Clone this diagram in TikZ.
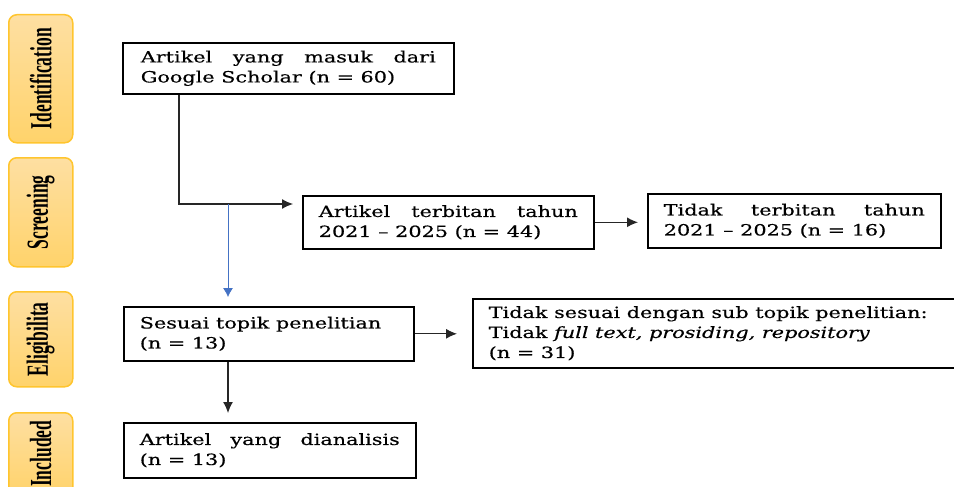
\documentclass[tikz,border=0pt]{standalone}
\usepackage{fontspec}
\setmainfont{DejaVu Serif}[FakeStretch=1.34, FakeBold=0.4]
\newfontfamily\stagefont{Liberation Serif}
\usetikzlibrary{arrows, arrows.meta, shapes, positioning}

\definecolor{stagetop}{HTML}{FEDFA2}
\definecolor{stagebottom}{HTML}{FFD36B}
\definecolor{stageline}{HTML}{FFC52E}
\definecolor{flowblue}{HTML}{4472C4}

\newcommand{\stagelabel}[1]{\rotatebox{90}{\scalebox{1}[1.75]{#1}}}

\tikzset{
	stage/.style={draw=stageline, line width=1.5pt, top color=stagetop, bottom color=stagebottom, rounded corners=8pt, minimum width=64pt, anchor=north west, inner sep=0pt, font=\stagefont\bfseries\fontsize{17.5}{17.5}\selectfont},
	flow/.style={draw, line width=1.6pt, anchor=north west, align=justify, inner xsep=16pt, inner ysep=0pt, font=\fontsize{15.5}{20}\selectfont},
	link/.style={-{Latex[length=11pt, width=10pt]}, line width=1.2pt, black!85},
}

\begin{document}
\begin{tikzpicture}[x=1pt, y=-1pt]
	\useasboundingbox (0,0) rectangle (954,487);

	\node[stage, minimum height=128pt] (ident) at (8,14) {\stagelabel{Identification}};
	\node[stage, minimum height=109pt] (screen) at (8,157) {\stagelabel{Screening}};
	\node[stage, minimum height=95pt] (elig) at (8,291) {\stagelabel{Eligibilita}};
	\node[stage, minimum height=82pt] (incl) at (8,412) {\stagelabel{Included}};

	\node[flow, inner xsep=18pt, text width=295pt, minimum height=51pt] (masuk) at (122,42) {Artikel yang masuk dari\linebreak Google Scholar (n = 60)};
	\node[flow, text width=259pt, minimum height=53pt] (terbit) at (302,195) {Artikel terbitan tahun\linebreak 2021 -- 2025 (n = 44)};
	\node[flow, text width=261pt, minimum height=54pt] (tidakterbit) at (647,193) {Tidak terbitan tahun\linebreak 2021 -- 2025 (n = 16)};
	\node[flow, text width=258pt, minimum height=54pt] (sesuai) at (123,306) {Sesuai topik penelitian\\ (n = 13)};
	\node[flow, text width=480pt, minimum height=69pt] (tidaksesuai) at (472,298) {Tidak sesuai dengan sub topik penelitian:\\ Tidak \textit{full text, prosiding, repository}\\ (n = 31)};
	\node[flow, text width=260pt, minimum height=55pt] (analisis) at (123,422) {Artikel yang dianalisis\linebreak (n = 13)};

	\coordinate (split) at (179,204);
	\coordinate (bluesplit) at (228,204);

	\draw[link, shorten >=9pt] (masuk.south -| split) -- (split) -- (split -| terbit.west);
	\draw[-{Latex[length=9pt, width=10pt]}, line width=0.8pt, flowblue, shorten >=9pt] (bluesplit) -- (bluesplit |- sesuai.north);
	\draw[link, shorten >=9pt] (terbit.east) -- (terbit.east -| tidakterbit.west);
	\draw[link, shorten >=15pt] (sesuai.east) -- (sesuai.east -| tidaksesuai.west);
	\draw[link, shorten >=9pt] (sesuai.south -| bluesplit) -- (analisis.north -| bluesplit);
\end{tikzpicture}
\end{document}
